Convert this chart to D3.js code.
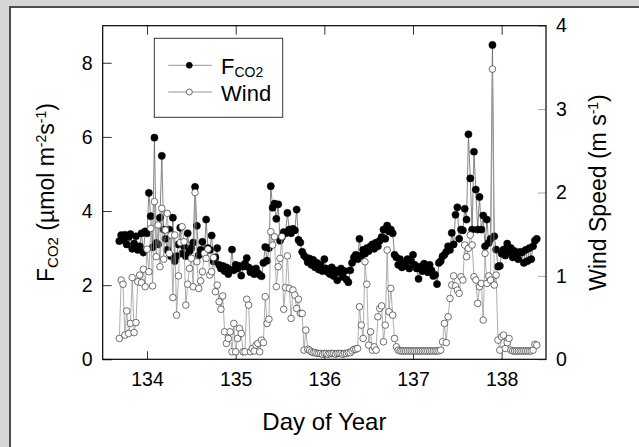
<!DOCTYPE html>
<html>
<head>
<meta charset="utf-8">
<script src="https://cdn.jsdelivr.net/npm/d3@7"></script>
<style>
  body { margin: 0; background: #d6d6d6; }
  svg { display: block; font-family: "Liberation Sans", Arial, sans-serif; }
</style>
</head>
<body>
<svg id="chart" width="639" height="447"></svg>
<script>
// half-hourly record, first sample at day 133.6875
const startDay = 133.6875
const stepDay = 1 / 48

// CO2 flux (µmol m-2 s-1)
const fco2 = [
  3.19,3.35,3.22,3.36,3.10,3.30,3.38,2.98,3.12,3.32,
  2.95,3.05,3.40,2.88,3.45,3.40,4.49,3.86,3.02,5.98,
  3.14,3.10,3.82,5.49,3.50,3.25,2.95,3.50,2.78,3.82,
  2.65,2.78,3.10,3.55,2.85,3.05,2.78,3.40,2.92,3.00,
  3.15,4.65,3.60,2.81,2.95,3.17,2.90,3.77,3.00,2.95,
  3.34,2.64,2.75,3.00,2.55,2.45,2.52,2.38,2.48,2.30,
  2.42,2.96,2.40,2.55,2.45,2.52,2.26,2.50,2.58,2.73,
  2.48,2.35,2.42,2.30,2.45,2.32,2.28,2.24,2.60,3.03,
  2.66,3.00,4.67,4.09,4.20,3.79,4.18,3.20,3.30,3.43,
  3.40,3.95,3.50,3.40,3.52,3.48,4.04,3.22,3.15,2.90,
  2.80,2.75,2.62,2.72,2.55,2.68,2.48,2.60,2.42,2.55,
  2.38,2.70,2.45,2.35,2.30,2.48,2.25,2.40,2.13,2.35,
  2.45,2.22,2.38,2.15,2.08,2.40,2.60,2.75,2.82,2.70,
  3.25,2.80,2.95,2.85,3.00,2.92,3.05,3.10,2.98,3.15,
  3.05,3.20,3.30,3.50,3.25,3.61,3.45,3.50,3.40,2.82,
  2.75,2.55,2.70,2.48,2.60,2.52,2.70,2.45,2.65,2.82,
  2.55,2.45,2.17,2.50,2.38,2.58,2.45,2.35,2.55,2.40,
  2.25,2.28,2.03,2.60,2.65,2.78,2.82,2.90,3.05,2.95,
  3.41,3.10,3.90,4.10,3.25,3.50,3.48,4.06,3.77,6.07,
  4.88,3.50,5.60,4.58,3.50,4.38,3.50,3.88,3.05,3.77,
  3.14,3.25,8.48,3.32,2.96,2.50,2.52,2.85,2.96,2.80,
  3.12,2.90,3.00,2.75,2.92,2.85,2.70,2.90,2.88,2.60,
  2.95,2.65,3.00,2.70,3.05,3.20,3.25
]

// wind speed (m s-1)
const wind = [
  0.25,0.95,0.90,0.29,0.58,0.31,0.43,0.98,0.32,0.44,
  0.93,1.01,0.92,1.08,0.87,1.32,1.05,1.57,0.88,1.89,
  1.23,1.61,1.11,1.81,1.20,1.55,1.75,1.27,1.49,0.74,
  1.49,0.53,1.00,1.40,1.59,1.41,0.65,0.90,1.09,1.21,
  0.87,2.00,1.17,0.85,0.94,1.05,1.27,1.21,1.32,1.01,
  1.05,1.22,0.81,0.89,0.69,0.60,0.76,0.33,0.19,0.25,
  0.33,0.09,0.43,0.09,0.25,0.37,0.31,0.09,0.09,0.72,
  0.65,0.09,0.13,0.10,0.17,0.19,0.09,0.23,0.20,0.75,
  0.43,0.48,1.53,1.37,1.47,0.87,1.11,1.21,1.47,0.60,
  0.86,1.24,0.85,0.49,0.83,0.77,0.61,0.72,0.55,0.55,
  0.11,0.35,0.12,0.11,0.09,0.08,0.08,0.07,0.07,0.07,
  0.06,0.07,0.07,0.06,0.07,0.07,0.07,0.06,0.07,0.07,
  0.07,0.06,0.07,0.07,0.08,0.08,0.10,0.12,0.12,0.13,
  0.63,0.41,0.25,1.17,0.90,0.17,0.33,0.11,0.15,0.11,
  0.51,0.61,0.64,0.21,0.41,1.31,0.57,0.85,0.53,0.25,
  0.15,0.11,0.10,0.10,0.10,0.10,0.10,0.10,0.10,0.10,
  0.10,0.10,0.10,0.10,0.10,0.10,0.10,0.10,0.10,0.10,
  0.10,0.10,0.10,0.10,0.11,0.21,0.43,0.20,0.51,0.73,
  0.89,1.00,0.88,0.83,0.79,0.99,0.95,1.37,1.23,1.33,
  1.49,1.37,0.99,0.95,0.67,0.87,0.91,0.47,1.27,0.91,
  1.00,0.95,3.48,0.89,1.01,0.23,0.11,0.27,0.29,0.13,
  0.20,0.25,0.11,0.10,0.10,0.10,0.10,0.10,0.10,0.10,
  0.10,0.10,0.10,0.10,0.11,0.18,0.17
]

const dayTicks = [134, 135, 136, 137, 138]
const fluxTicks = [0, 2, 4, 6, 8]
const windTicks = [0, 1, 2, 3, 4]

const svg = d3.select("#chart")

// outer panel
svg.append("rect").attr("x", 10).attr("y", 7).attr("width", 660).attr("height", 460)
  .attr("fill", "white").attr("stroke", "#4d4d4d").attr("stroke-width", 2)

const plotLeft = 102.7, plotRight = 546, plotTop = 25.7, plotBottom = 359.3

const x = d3.scaleLinear().domain([133.5, 138.5]).range([plotLeft, plotRight])
const yL = d3.scaleLinear().domain([0, 9]).range([plotBottom, plotTop])
const yR = d3.scaleLinear().domain([0, 4]).range([plotBottom, plotTop])

const dayAt = (d, i) => startDay + i * stepDay
const fmt = d3.format("d")

// axes
const gBottom = svg.append("g").attr("transform", `translate(0,${plotBottom})`)
  .call(d3.axisBottom(x).tickValues(dayTicks).tickFormat(fmt).tickSize(-8).tickPadding(13))
const gTop = svg.append("g").attr("transform", `translate(0,${plotTop})`)
  .call(d3.axisTop(x).tickValues(dayTicks).tickSize(-9).tickFormat(""))
const gLeft = svg.append("g").attr("transform", `translate(${plotLeft},0)`)
  .call(d3.axisLeft(yL).tickValues(fluxTicks).tickFormat(fmt).tickSize(-9).tickPadding(10))
const gRight = svg.append("g").attr("transform", `translate(${plotRight},0)`)
  .call(d3.axisRight(yR).tickValues(windTicks).tickFormat(fmt).tickSize(-8).tickPadding(10))

svg.selectAll(".domain").remove()
svg.selectAll(".tick text").attr("font-size", 19.5).attr("fill", "#000")
  .attr("font-family", "Liberation Sans, Arial, sans-serif")
gBottom.selectAll(".tick line").attr("stroke", "#333")
gTop.selectAll(".tick line").attr("stroke", "#333")
gLeft.selectAll(".tick line").attr("stroke", "#333")
gRight.selectAll(".tick line").attr("stroke", "#aaa")

// frame
svg.append("rect").attr("x", plotLeft).attr("y", plotTop)
  .attr("width", plotRight - plotLeft).attr("height", plotBottom - plotTop)
  .attr("fill", "none").attr("stroke", "#000").attr("stroke-width", 1.2)

// FCO2 series
const lineF = d3.line().x((d, i) => x(dayAt(d, i))).y(d => yL(d))
svg.append("path").attr("d", lineF(fco2))
  .attr("fill", "none").attr("stroke", "#666").attr("stroke-width", 0.8)
svg.append("g").selectAll("circle").data(fco2).join("circle")
  .attr("cx", (d, i) => x(dayAt(d, i))).attr("cy", d => yL(d)).attr("r", 3.6)
  .attr("fill", "#000").attr("stroke", "#000").attr("stroke-width", 0.5)

// wind series
const lineW = d3.line().x((d, i) => x(dayAt(d, i))).y(d => yR(d))
svg.append("path").attr("d", lineW(wind))
  .attr("fill", "none").attr("stroke", "#999").attr("stroke-width", 0.8)
svg.append("g").selectAll("circle").data(wind).join("circle")
  .attr("cx", (d, i) => x(dayAt(d, i))).attr("cy", d => yR(d)).attr("r", 3.3)
  .attr("fill", "#fff").attr("stroke", "#333").attr("stroke-width", 0.7)

// axis titles
svg.append("text").attr("x", (plotLeft + plotRight) / 2).attr("y", 430)
  .attr("text-anchor", "middle").attr("font-size", 24).text("Day of Year")

const yTitle = svg.append("text")
  .attr("transform", `translate(54,${(plotTop + plotBottom) / 2}) rotate(-90)`)
  .attr("text-anchor", "middle").attr("font-size", 23)
yTitle.append("tspan").text("F")
yTitle.append("tspan").attr("font-size", 15).attr("dy", 4).text("CO2")
yTitle.append("tspan").attr("dy", -4).text(" (\u00b5mol m")
yTitle.append("tspan").attr("font-size", 14).attr("dy", -8).text("-2")
yTitle.append("tspan").attr("dy", 8).text("s")
yTitle.append("tspan").attr("font-size", 14).attr("dy", -8).text("-1")
yTitle.append("tspan").attr("dy", 8).text(")")

const rTitle = svg.append("text")
  .attr("transform", `translate(606,${(plotTop + plotBottom) / 2}) rotate(-90)`)
  .attr("text-anchor", "middle").attr("font-size", 23)
rTitle.append("tspan").text("Wind Speed (m s")
rTitle.append("tspan").attr("font-size", 14).attr("dy", -8).text("-1")
rTitle.append("tspan").attr("dy", 8).text(")")

// legend
const legend = svg.append("g")
legend.append("rect").attr("x", 154.3).attr("y", 38.3).attr("width", 128.4).attr("height", 79)
  .attr("fill", "#fff").attr("stroke", "#333").attr("stroke-width", 1)

const legendRows = [
  {name: "F", sub: "CO2", y: 65.3, fill: "#000", stroke: "#000"},
  {name: "Wind", sub: "", y: 92, fill: "#fff", stroke: "#333"}
]
legendRows.forEach(r => {
  legend.append("line").attr("x1", 168.3).attr("x2", 211.7).attr("y1", r.y).attr("y2", r.y)
    .attr("stroke", "#888").attr("stroke-width", 0.9)
  legend.append("circle").attr("cx", 189.3).attr("cy", r.y).attr("r", 3)
    .attr("fill", r.fill).attr("stroke", r.stroke).attr("stroke-width", 0.7)
  const t = legend.append("text").attr("x", 221).attr("y", r.y + 8.5).attr("font-size", 22)
  t.append("tspan").text(r.name)
  if (r.sub) t.append("tspan").attr("font-size", 14).attr("dy", 3).text(r.sub)
})
</script>
</body>
</html>
